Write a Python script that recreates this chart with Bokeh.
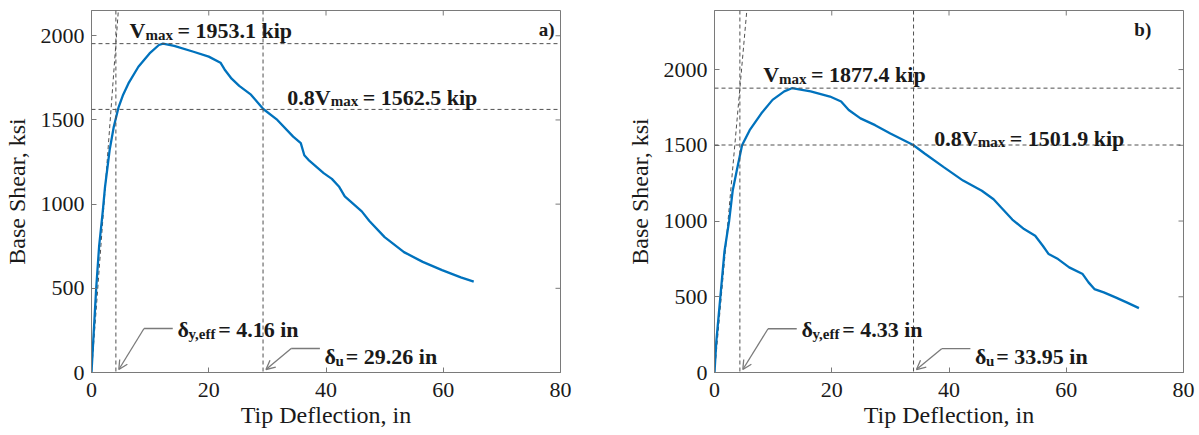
import math
from bokeh.plotting import figure
from bokeh.layouts import row
from bokeh.models import Range1d, FixedTicker, Span, Label, Arrow, OpenHead
from bokeh.embed import file_html
from bokeh.resources import INLINE

FONT = "Liberation Serif"

# ---------------- data ----------------
x_ticks = [0, 20, 40, 60, 80]
y_ticks = [0, 500, 1000, 1500, 2000]

a_x = [0, 0.3, 0.8, 1.3, 1.9, 2.3, 3.1, 3.8, 4.6, 5.4, 6.3, 8.0, 9.9, 11.5, 12.2,
       14.1, 17.4, 20.0, 22.0, 22.7, 23.9, 25.2, 27.2, 29.3, 31.7, 34.4, 35.7,
       36.3, 37.0, 39.6, 41.0, 42.2, 43.2, 46.1, 47.4, 50.0, 53.3, 56.5, 59.8,
       63.0, 65.2]
a_y = [0, 190, 500, 750, 950, 1100, 1322, 1460, 1573, 1650, 1717, 1816, 1895,
       1945, 1953, 1940, 1905, 1876, 1840, 1800, 1745, 1702, 1650, 1565, 1500,
       1401, 1362, 1290, 1263, 1184, 1150, 1105, 1046, 957, 900, 804, 715, 657,
       608, 565, 540]

b_x = [0, 0.3, 1.0, 1.7, 2.5, 3.1, 3.8, 4.7, 6.0, 8.0, 9.9, 11.9, 13.2, 16.4,
       19.7, 21.6, 22.9, 24.9, 27.4, 30.0, 33.9, 35.9, 39.1, 42.4, 45.6, 47.6,
       48.9, 50.8, 52.8, 54.7, 56.0, 57.0, 58.6, 60.5, 62.8, 63.8, 64.8, 66.4,
       68.4, 70.3, 72.4]
b_y = [0, 200, 500, 800, 1002, 1200, 1333, 1500, 1600, 1711, 1800, 1856, 1877,
       1856, 1822, 1789, 1733, 1678, 1633, 1578, 1502, 1444, 1356, 1267, 1200,
       1144, 1089, 1010, 947, 903, 837, 782, 749, 694, 650, 595, 551, 529, 496,
       463, 425]

v_max = [1953.1, 1877.4]
v_08 = [1562.5, 1501.9]
d_yeff = [4.16, 4.33]
d_u = [29.26, 33.95]
tags = ["a)", "b)"]
y_top = [2150, 2390]
x_title = "Tip Deflection, in"
y_title = "Base Shear, ksi"

# ---------------- styling / layout ----------------
BLUE = "#0072BD"
GRAY = "#7a7a7a"
DASH = "#505050"
TXT = "#1a1a1a"

BOLD_W = {'V': .722, 'm': .833, 'a': .5, 'x': .5, ' ': .25, '=': .57, '.': .25,
          'k': .556, 'i': .278, 'p': .556, 'δ': .5, 'y': .5, ',': .25,
          'e': .444, 'f': .333, 'u': .556, 'n': .556}


def tw(s, size, table=BOLD_W):
    return sum(table.get(c, .5) for c in s) * size


def rich(p, x, y, parts, xoff=0.0, yoff=0.0):
    cur = xoff
    for text, size, dy, gap_after in parts:
        p.add_layout(Label(x=x, y=y, x_offset=cur, y_offset=yoff + dy, text=text,
                           text_font=FONT, text_font_size=f"{size}px",
                           text_font_style="bold", text_color=TXT,
                           text_align="left", text_baseline="alphabetic"))
        cur += tw(text, size) + gap_after * size


H = 435
layouts = [
    dict(width=600, bl=89, br=40, bt=10, fh=362, vx=6.5, vo=13.0, v8x=33.4, v8o=12.0, tagx=79.0),
    dict(width=599, bl=114, br=16, bt=8, fh=364, vx=8.3, vo=13.5, v8x=37.5, v8o=7.0, tagx=74.5),
]
curves = [(a_x, a_y), (b_x, b_y)]
FS, SUB = 22, 15

figs = []
for k in range(2):
    L = layouts[k]
    ymax = y_top[k]
    sy = L["fh"] / ymax  # px per data unit
    p = figure(width=L["width"], height=H, output_backend="svg", toolbar_location=None,
               x_range=Range1d(0, 80), y_range=Range1d(0, ymax),
               min_border_left=L["bl"], min_border_right=L["br"],
               min_border_top=L["bt"], min_border_bottom=H - L["bt"] - L["fh"])
    p.background_fill_color = "white"
    p.border_fill_color = "white"
    p.outline_line_color = GRAY
    p.outline_line_width = 1
    p.grid.visible = False
    for ax, ticks in ((p.xaxis[0], x_ticks), (p.yaxis[0], y_ticks)):
        ax.ticker = FixedTicker(ticks=ticks)
        ax.minor_tick_line_color = None
        ax.major_tick_in = 5
        ax.major_tick_out = 0
        ax.axis_line_color = GRAY
        ax.major_tick_line_color = GRAY
        ax.major_label_text_font = FONT
        ax.major_label_text_font_size = "22px"
        ax.major_label_text_color = TXT
        ax.axis_label_text_font = FONT
        ax.axis_label_text_font_size = "24px"
        ax.axis_label_text_font_style = "normal"
        ax.axis_label_text_color = TXT
    p.xaxis.axis_label = x_title
    p.yaxis.axis_label = y_title
    p.xaxis.major_label_standoff = 10
    p.xaxis.axis_label_standoff = 2
    p.yaxis.major_label_standoff = 7
    p.yaxis.axis_label_standoff = 8

    # ticks on top and right edges
    p.scatter(x=x_ticks, y=[ymax] * len(x_ticks), marker="dash", angle=math.pi / 2,
              size=10, line_color=GRAY, line_width=1)
    p.scatter(x=[80] * len(y_ticks), y=y_ticks, marker="dash", size=10,
              line_color=GRAY, line_width=1)

    # reference lines
    for loc in (v_max[k], v_08[k]):
        p.add_layout(Span(location=loc, dimension="width", line_color=DASH,
                          line_dash="4 3", line_width=1))
    for loc in (d_yeff[k], d_u[k]):
        p.add_layout(Span(location=loc, dimension="height", line_color=DASH,
                          line_dash="4 3", line_width=1))
    slope = v_max[k] / d_yeff[k]
    p.line([0, ymax / slope], [0, ymax], line_color=DASH, line_dash="4 3", line_width=1)

    # curve
    cx, cy = curves[k]
    p.line(cx, cy, line_color=BLUE, line_width=2.3)

    # Vmax labels
    rich(p, L["vx"], v_max[k],
         [("V", FS, 0, 0), ("max", SUB, -4, 0.3),
          (f"= {v_max[k]:.1f} kip", FS, 0, 0)], yoff=L["vo"])
    rich(p, L["v8x"], v_08[k],
         [("0.8V", FS, 0, 0), ("max", SUB, -4, 0.3),
          (f"= {v_08[k]:.1f} kip", FS, 0, 0)], yoff=L["v8o"])

    # delta annotations with arrows
    for dval, sub, h_line, h_text in ((d_yeff[k], "y,eff", 44, 43), (d_u[k], "u", 24, 16)):
        tip = (dval + 0.5, 3 / sy)
        elbow = (dval + 4.8, h_line / sy)
        end = (dval + 9.7, h_line / sy)
        p.line([elbow[0], end[0]], [elbow[1], end[1]], line_color=GRAY, line_width=1.3)
        p.add_layout(Arrow(end=OpenHead(size=9, line_color=GRAY, line_width=1.3),
                           x_start=elbow[0], y_start=elbow[1], x_end=tip[0], y_end=tip[1],
                           line_color=GRAY, line_width=1.3))
        rich(p, dval + 10.5, 0,
             [("δ", FS, 0, 0), (sub, SUB, -4, 0.12),
              (f"= {dval:.2f} in", FS, 0, 0)], yoff=h_text)

    # panel tag
    p.add_layout(Label(x=L["tagx"], y=ymax, y_offset=-19, text=tags[k], text_font=FONT,
                       text_font_size="19px", text_font_style="bold", text_color=TXT,
                       text_align="right", text_baseline="alphabetic"))
    figs.append(p)

layout = row(*figs)
open("out.html", "w").write(file_html(layout, INLINE))
